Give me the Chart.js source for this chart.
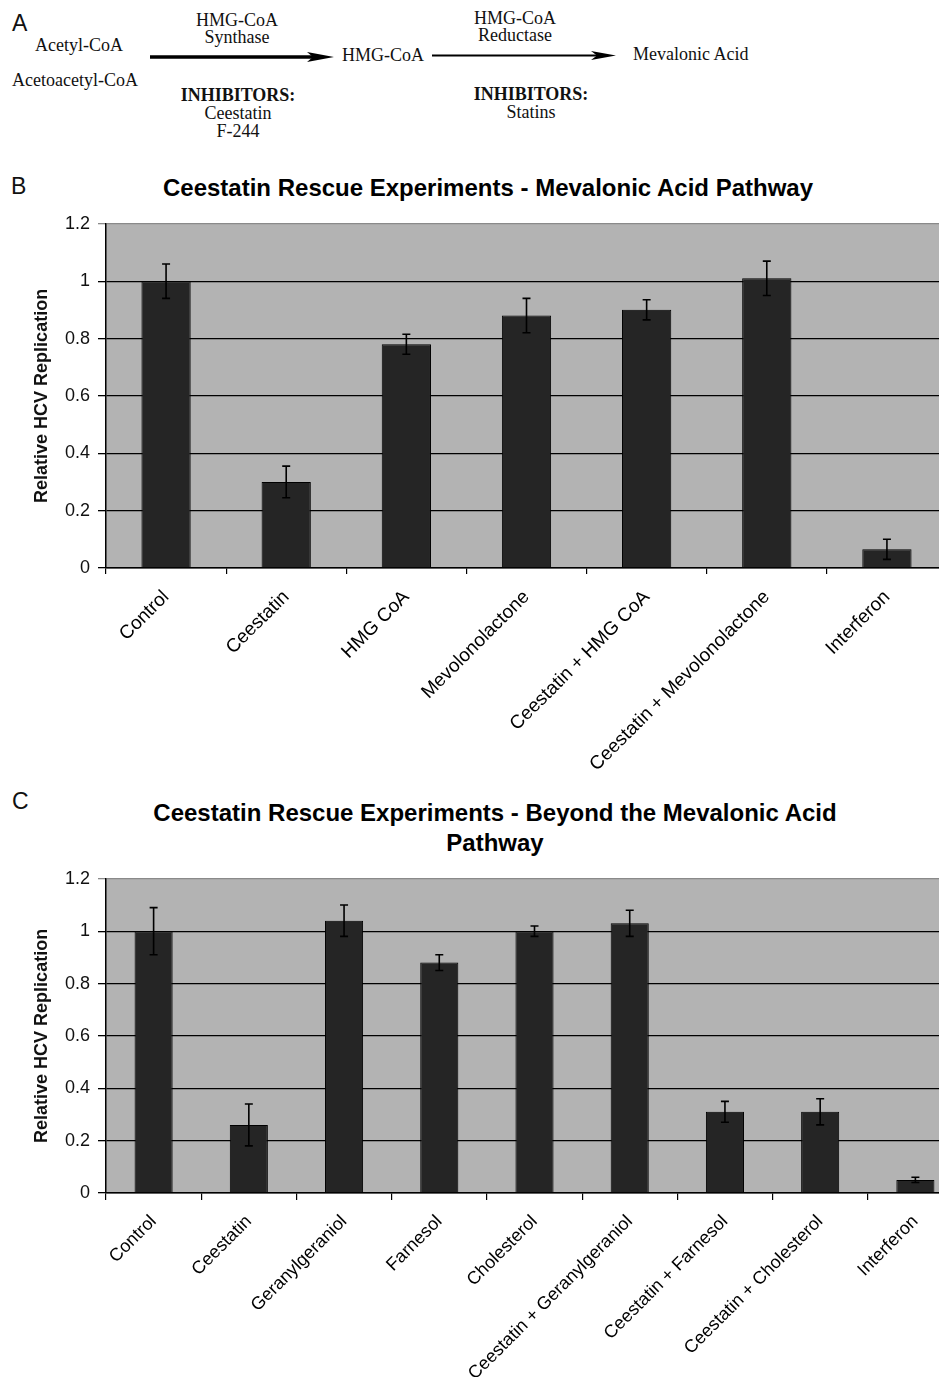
<!DOCTYPE html>
<html>
<head>
<meta charset="utf-8">
<script src="https://cdn.jsdelivr.net/npm/chart.js@4"></script>
<style>
  html, body { margin: 0; padding: 0; background: #fff; overflow: hidden; }
  body { width: 939px; height: 1377px; position: relative; }
  .t { position: absolute; white-space: nowrap; }
  .serif { font-family: "Liberation Serif", "Times New Roman", serif; font-size: 18px; line-height: 18px; color: #111; }
  .c { transform: translateX(-50%); text-align: center; }
  .letter { font-family: "Liberation Sans", Arial, sans-serif; font-size: 23px; line-height: 23px; color: #111; }
  .title { font-family: "Liberation Sans", Arial, sans-serif; font-weight: bold; font-size: 24px; line-height: 30px; color: #000; }
  canvas { position: absolute; left: 0; }
</style>
</head>
<body>

<!-- panel A: pathway -->
<div class="t letter" style="left:12px; top:12px;">A</div>
<div class="t serif c" style="left:237px; top:12px; line-height:17px;">HMG-CoA<br>Synthase</div>
<div class="t serif c" style="left:515px; top:10px; line-height:17px;">HMG-CoA<br>Reductase</div>
<div class="t serif" style="left:35px; top:36px;">Acetyl-CoA</div>
<div class="t serif" style="left:12px; top:71px;">Acetoacetyl-CoA</div>
<div class="t serif" style="left:342px; top:46px;">HMG-CoA</div>
<div class="t serif" style="left:633px; top:45px;">Mevalonic Acid</div>
<div class="t serif c" style="left:238px; top:86px;"><b>INHIBITORS:</b><br>Ceestatin<br>F-244</div>
<div class="t serif c" style="left:531px; top:85px;"><b>INHIBITORS:</b><br>Statins</div>
<svg class="t" style="left:0; top:0;" width="939" height="150">
  <line x1="150" y1="57" x2="316" y2="57" stroke="#000" stroke-width="3.5"/>
  <polygon points="307,52 334,57 307,62 313,57" fill="#000"/>
  <line x1="432" y1="55.5" x2="600" y2="55.5" stroke="#000" stroke-width="2"/>
  <polygon points="591,51 616,55.5 591,60 597,55.5" fill="#000"/>
</svg>

<!-- panel B -->
<div class="t letter" style="left:11px; top:175px;">B</div>
<div class="t title c" style="left:488px; top:173px;">Ceestatin Rescue Experiments - Mevalonic Acid Pathway</div>
<canvas id="chartB" width="947" height="575" style="top:205px;"></canvas>

<!-- panel C -->
<div class="t letter" style="left:12px; top:790px;">C</div>
<div class="t title c" style="left:495px; top:798px;">Ceestatin Rescue Experiments - Beyond the Mevalonic Acid<br>Pathway</div>
<canvas id="chartC" width="963" height="517" style="top:860px;"></canvas>

<script>
const catsB = ["Control", "Ceestatin", "HMG CoA", "Mevolonolactone", "Ceestatin + HMG CoA", "Ceestatin + Mevolonolactone", "Interferon"];
const valsB = [1.00, 0.30, 0.78, 0.88, 0.90, 1.01, 0.065];
const errB = [0.06, 0.055, 0.035, 0.06, 0.035, 0.06, 0.035];

const catsC = ["Control", "Ceestatin", "Geranylgeraniol", "Farnesol", "Cholesterol", "Ceestatin + Geranylgeraniol", "Ceestatin + Farnesol", "Ceestatin + Cholesterol", "Interferon"];
const valsC = [1.00, 0.26, 1.04, 0.88, 1.00, 1.03, 0.31, 0.31, 0.05];
const errC = [0.09, 0.08, 0.06, 0.03, 0.02, 0.05, 0.04, 0.05, 0.01];

const yMin = 0, yMax = 1.2, yStep = 0.2;
const SANS = "'Liberation Sans', Arial, sans-serif";

// grey plot area behind the grid
const plotBg = {
    id: "plotBg",
    beforeDraw(chart) {
        const a = chart.chartArea, ctx = chart.ctx;
        ctx.save();
        ctx.fillStyle = "#b3b3b3";
        ctx.fillRect(a.left, a.top, a.right - a.left, a.bottom - a.top);
        ctx.restore();
    }
};

// +/- error bars with caps
const errorBars = {
    id: "errorBars",
    afterDatasetsDraw(chart, args, opts) {
        const meta = chart.getDatasetMeta(0), y = chart.scales.y, ctx = chart.ctx;
        const vals = chart.data.datasets[0].data;
        ctx.save();
        ctx.strokeStyle = "#000";
        ctx.lineWidth = 1.6;
        meta.data.forEach((bar, i) => {
            const hi = y.getPixelForValue(vals[i] + opts.errors[i]);
            const lo = y.getPixelForValue(vals[i] - opts.errors[i]);
            ctx.beginPath();
            ctx.moveTo(bar.x, hi); ctx.lineTo(bar.x, lo);
            ctx.moveTo(bar.x - 4, hi); ctx.lineTo(bar.x + 4, hi);
            ctx.moveTo(bar.x - 4, lo); ctx.lineTo(bar.x + 4, lo);
            ctx.stroke();
        });
        ctx.restore();
    }
};

function buildChart(id, cats, vals, errs, cfg) {
    return new Chart(document.getElementById(id), {
        type: "bar",
        data: {
            labels: cats,
            datasets: [{
                data: vals,
                backgroundColor: "#252525",
                borderColor: "#000",
                borderWidth: 1,
                barPercentage: cfg.barPct,
                categoryPercentage: 1
            }]
        },
        options: {
            responsive: false,
            animation: false,
            layout: { padding: { top: cfg.padTop, left: 0, right: 0, bottom: 0 } },
            plugins: {
                legend: { display: false },
                tooltip: { enabled: false },
                errorBars: { errors: errs }
            },
            scales: {
                x: {
                    grid: { drawOnChartArea: false, drawTicks: true, tickLength: cfg.xTick, color: "#000", lineWidth: 1.2, offset: true },
                    border: { color: "#000", width: 1.5 },
                    ticks: {
                        autoSkip: false, minRotation: 45, maxRotation: 45, padding: cfg.xPad,
                        color: "#000", font: { family: SANS, size: cfg.xFont }
                    },
                    afterFit(s) { s.height = cfg.xHeight; }
                },
                y: {
                    min: yMin, max: yMax,
                    ticks: {
                        stepSize: yStep, padding: 8, color: "#111",
                        font: { family: SANS, size: 18 },
                        callback: v => +v.toFixed(1)
                    },
                    grid: {
                        color: c => (c.tick && c.tick.value > yMax - 0.01) ? "#8a8a8a" : "#000",
                        lineWidth: 1.3, tickLength: 8
                    },
                    border: { color: "#000", width: 1.5 },
                    title: {
                        display: true, text: "Relative HCV Replication", color: "#111",
                        font: { family: SANS, size: 18, weight: "bold" },
                        padding: { top: 31, bottom: 0 }
                    },
                    afterFit(s) { s.width = 106; }
                }
            }
        },
        plugins: [plotBg, errorBars]
    });
}

buildChart("chartB", catsB, valsB, errB, { barPct: 0.41, padTop: 17, xHeight: 212, xTick: 6, xPad: 12, xFont: 19 });
buildChart("chartC", catsC, valsC, errC, { barPct: 0.40, padTop: 14, xHeight: 184, xTick: 7, xPad: 11, xFont: 18 });
</script>
</body>
</html>
